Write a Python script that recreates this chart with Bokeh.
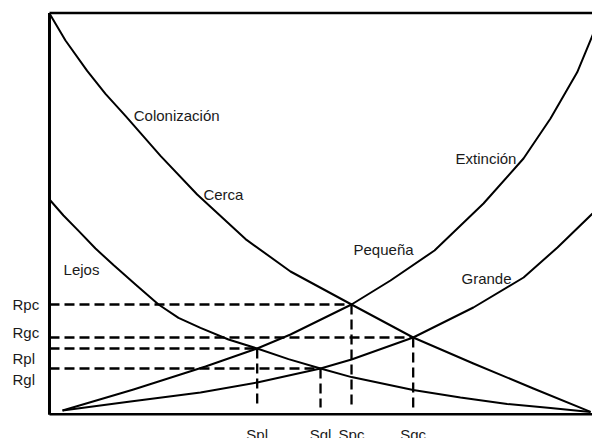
from bokeh.plotting import figure
from bokeh.models import Range1d
from bokeh.core.properties import value
from bokeh.embed import file_html
from bokeh.resources import INLINE

# ---- data (S = species number, R = rate) ----
cerca_S = [0, 2.96, 6.98, 10.37, 14.07, 20.56, 27.35, 36.3, 44.63, 55.93, 67.35, 78.5, 89.6, 100.2]
cerca_R = [100, 93.25, 85.65, 79.9, 74.4, 64.4, 54.75, 43.6, 35.5, 27.25, 19, 12.5, 6.25, 0.4]

lejos_S = [0, 2.59, 5.43, 8.52, 11.85, 15.93, 20.19, 23.89, 27.96, 33.15, 38.46, 44.26,
           50.19, 55.93, 67.35, 76.1, 84.76, 92.78, 100.2]
lejos_R = [53.5, 49.5, 45.6, 41.25, 37.1, 32.25, 27.25, 23.9, 21.4, 18.5, 16.25, 13.6,
           11.25, 9.1, 5.9, 4.0, 2.4, 1.4, 0.4]

pequena_S = [2.41, 15.56, 28.89, 38.46, 44.63, 55.93, 63.15, 71.3, 80.37, 87.78, 92.78,
             97.72, 100.56, 102.04]
pequena_R = [0.75, 6.0, 11.75, 16.25, 19.75, 27.25, 33.25, 40.75, 52.5, 63.75, 73.75,
             85.3, 94.5, 99.5]

grande_S = [2.41, 15.0, 27.96, 38.46, 50.19, 55.93, 67.35, 78.5, 87.8, 94.07, 100.56, 102.0]
grande_R = [0.75, 3.0, 5.25, 7.75, 11.25, 13.5, 19, 26.5, 34, 41.5, 50, 52]

# equilibrium points
eq_names_S = ["Spl", "Sgl", "Spc", "Sgc"]
eq_S = [38.46, 50.19, 55.93, 67.35]
eq_R = [16.25, 11.25, 27.25, 19]

# rate labels (left side)
r_labels = ["Rpc", "Rgc", "Rpl", "Rgl"]
r_label_pos = [27.25, 20.25, 13.75, 8.5]

# curve labels
curve_labels = ["Colonización", "Cerca", "Lejos", "Extinción", "Pequeña", "Grande"]
curve_label_S = [15.6, 28.5, 2.6, 75.2, 56.3, 76.3]
curve_label_R = [74.5, 54.75, 36.0, 63.75, 41.0, 33.75]

S_MAX = 101
R_MAX = 100.1
DASH_END = 1.5
S_LABEL_Y = -5.25

FONT = value("Liberation Sans")
INK = "#000000"
TXT = "#1a1a1a"

p = figure(width=592, height=438, output_backend="svg", toolbar_location=None,
           x_axis_location=None, y_axis_location=None,
           x_range=Range1d(-9.074, 100.556), y_range=Range1d(-6.25, 103.25),
           min_border=0, min_border_left=0, min_border_right=0,
           min_border_top=0, min_border_bottom=0)
p.outline_line_color = None
p.grid.visible = False
p.background_fill_color = "white"
p.border_fill_color = "white"

# frame lines
p.line([0, 0], [-0.3, R_MAX], line_color=INK, line_width=3)
p.line([0, S_MAX], [R_MAX, R_MAX], line_color=INK, line_width=2.5)
p.line([0, S_MAX], [-0.2, -0.2], line_color=INK, line_width=2.5)

# dashed guide lines
p.segment(x0=[0] * len(eq_S), y0=eq_R, x1=eq_S, y1=eq_R,
          line_color=INK, line_width=2.3, line_dash="10 5")
p.segment(x0=eq_S, y0=eq_R, x1=eq_S, y1=[DASH_END] * len(eq_S),
          line_color=INK, line_width=2.3, line_dash="10 5")

# curves
for xs, ys in [(cerca_S, cerca_R), (lejos_S, lejos_R),
               (pequena_S, pequena_R), (grande_S, grande_R)]:
    p.line(xs, ys, line_color=INK, line_width=2, line_join="round")

# texts
p.text(x=curve_label_S, y=curve_label_R, text=curve_labels, text_font=FONT,
       text_font_size="15px", text_align="left", text_baseline="alphabetic",
       text_color=TXT)
p.text(x=[-6.85] * len(r_labels), y=r_label_pos, text=r_labels, text_font=FONT,
       text_font_size="15px", text_align="left", text_baseline="alphabetic",
       text_color=TXT)
p.text(x=eq_S, y=[S_LABEL_Y] * len(eq_S), text=eq_names_S, text_font=FONT,
       text_font_size="15px", text_align="center", text_baseline="alphabetic",
       text_color=TXT)

open("out.html", "w").write(file_html(p, INLINE))
